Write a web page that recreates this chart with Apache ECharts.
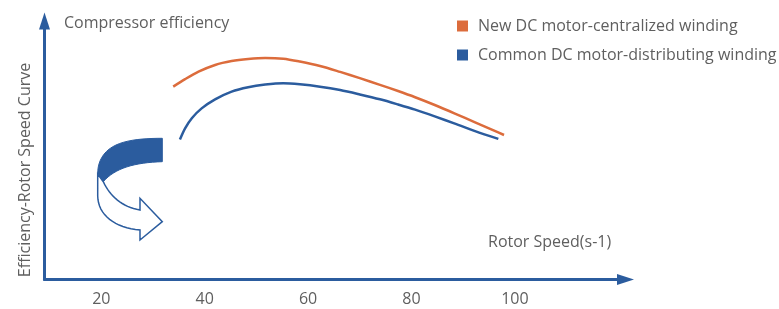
<!DOCTYPE html>
<html>
<head>
<meta charset="utf-8">
<script src="https://cdn.jsdelivr.net/npm/echarts@6/dist/echarts.min.js"></script>
<style>
  html, body { margin: 0; padding: 0; background: #fff; }
  #chart { width: 779px; height: 309px; }
</style>
</head>
<body>
<div id="chart"></div>
<script>
// --------------------------------------------------------
// data
var seriesNames = ['New DC motor-centralized winding', 'Common DC motor-distributing winding'];
var speedNew = [33.9, 36.2, 38.8, 42.0, 45.2, 48.4, 51.7, 55.2, 58.4, 62.3, 66.2, 70.0, 73.9, 77.4, 80.7, 84.5, 88.4, 92.3, 96.1, 97.9];
var effNew = [74.6, 77.5, 80.4, 83.0, 84.5, 85.3, 85.7, 85.4, 84.3, 82.6, 80.3, 77.9, 75.3, 72.9, 70.5, 67.5, 64.2, 60.8, 57.5, 55.9];
var speedCommon = [35.2, 36.2, 37.5, 39.4, 42.0, 45.2, 48.4, 51.7, 55.2, 58.4, 62.3, 66.2, 70.0, 73.9, 77.4, 80.7, 84.5, 88.4, 92.3, 96.8];
var effCommon = [54.2, 58.5, 62.4, 66.2, 69.7, 72.7, 74.4, 75.4, 75.9, 75.5, 74.6, 73.3, 71.6, 69.7, 67.7, 65.7, 63.1, 60.3, 57.4, 54.4];
var tickLabels = [20, 40, 60, 80, 100];

var BLUE = '#2b5c9e';
var ORANGE = '#dc6c3c';
var GREY = '#5f5f5f';
var FONT = 'Open Sans';

function pairs(xs, ys) {
    return xs.map(function (x, i) { return [x, ys[i]]; });
}

// sample a cubic bezier into points (for the decorative arrow only)
function bez(p0, p1, p2, p3, n) {
    var out = [];
    for (var i = 1; i <= n; i++) {
        var t = i / n, u = 1 - t;
        out.push([
            u * u * u * p0[0] + 3 * u * u * t * p1[0] + 3 * u * t * t * p2[0] + t * t * t * p3[0],
            u * u * u * p0[1] + 3 * u * u * t * p1[1] + 3 * u * t * t * p2[1] + t * t * t * p3[1]
        ]);
    }
    return out;
}

// solid top half of the curved arrow
var solidPts = [[162.3, 138.3], [162.3, 161.7]]
    .concat(bez([162.3, 161.7], [135, 162.5], [115, 168], [103.3, 181.7], 16))
    .concat([[97.7, 174]])
    .concat(bez([97.7, 174], [97.5, 162], [103, 151], [116, 145], 10))
    .concat(bez([116, 145], [128, 139.5], [145, 138.3], [162.3, 138.3], 10));

// outlined lower half with arrow head
var outlinePts = [[103.3, 181.7]]
    .concat(bez([103.3, 181.7], [110, 196], [122, 207], [140, 210], 16))
    .concat([[140, 198.3], [162.3, 221.7], [140, 240], [140, 230]])
    .concat(bez([140, 230], [115, 228], [98, 215], [97.7, 196], 16))
    .concat([[97.7, 174]]);

var chartDom = document.getElementById('chart');
var myChart = echarts.init(chartDom);
var option;

option = {
    animation: false,
    textStyle: { fontFamily: FONT },
    grid: {
        left: 44.5,
        right: 779 - 625.5,
        top: 21,
        bottom: 29.5
    },
    legend: {
        orient: 'vertical',
        left: 452,
        top: 13,
        icon: 'rect',
        itemWidth: 11,
        itemHeight: 11,
        itemGap: 13,
        textStyle: { color: GREY, fontSize: 16, fontFamily: FONT, padding: [0, 0, 0, 5] },
        data: seriesNames
    },
    xAxis: {
        type: 'value',
        min: 9,
        max: 121.4,
        splitLine: { show: false },
        axisTick: { show: false },
        axisLine: {
            onZero: false,
            symbol: ['none', 'triangle'],
            symbolSize: [11, 17],
            lineStyle: { color: BLUE, width: 3 }
        },
        axisLabel: {
            customValues: tickLabels,
            color: GREY,
            fontSize: 16,
            margin: 12
        }
    },
    yAxis: {
        type: 'value',
        min: 0,
        max: 100,
        splitLine: { show: false },
        axisTick: { show: false },
        axisLabel: { show: false },
        axisLine: {
            show: true,
            onZero: false,
            symbol: ['none', 'triangle'],
            symbolSize: [11, 17],
            lineStyle: { color: BLUE, width: 3 }
        }
    },
    series: [
        {
            name: seriesNames[0],
            type: 'line',
            smooth: 0.3,
            showSymbol: false,
            itemStyle: { color: ORANGE },
            lineStyle: { color: ORANGE, width: 2.5 },
            data: pairs(speedNew, effNew)
        },
        {
            name: seriesNames[1],
            type: 'line',
            smooth: 0.3,
            showSymbol: false,
            itemStyle: { color: BLUE },
            lineStyle: { color: BLUE, width: 2.5 },
            data: pairs(speedCommon, effCommon)
        }
    ],
    graphic: [
        {
            type: 'text',
            left: 64,
            top: 15,
            style: { text: 'Compressor efficiency', fill: GREY, font: '16px "' + FONT + '"' }
        },
        {
            type: 'text',
            left: 488,
            top: 234,
            style: { text: 'Rotor Speed(s-1)', fill: GREY, font: '16px "' + FONT + '"' }
        },
        {
            type: 'text',
            x: 25,
            y: 170,
            rotation: Math.PI / 2,
            style: {
                text: 'Efficiency-Rotor Speed Curve',
                fill: GREY,
                font: '16px "' + FONT + '"',
                align: 'center',
                verticalAlign: 'middle'
            }
        },
        {
            type: 'polygon',
            shape: { points: solidPts },
            style: { fill: BLUE, stroke: BLUE, lineWidth: 1 }
        },
        {
            type: 'polygon',
            shape: { points: outlinePts },
            style: { fill: '#fff', stroke: BLUE, lineWidth: 1.5 }
        }
    ]
};

option && myChart.setOption(option);
</script>
</body>
</html>
